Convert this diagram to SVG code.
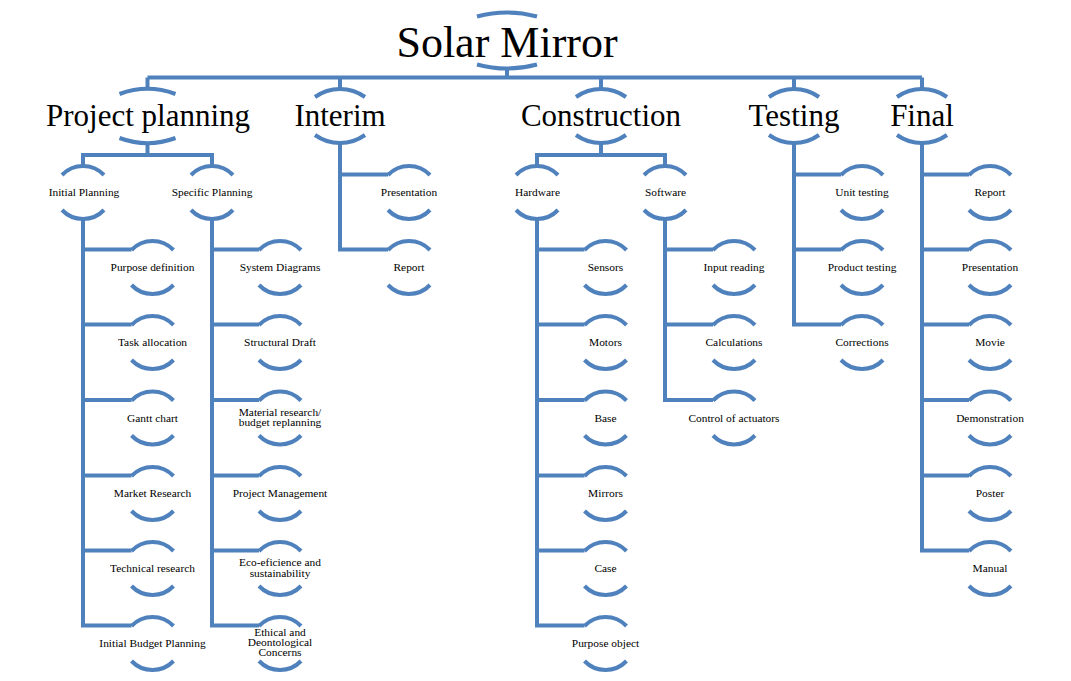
<svg xmlns="http://www.w3.org/2000/svg" xmlns:xlink="http://www.w3.org/1999/xlink" width="1071" height="681" viewBox="0 0 1071 681">
<style>
.ln{fill:none;stroke:#4F81BD;stroke-width:4;stroke-linejoin:miter}
.t{font-family:"Liberation Serif","Times New Roman",serif;font-size:11.4px;text-anchor:middle;fill:#000}
.h1{font-family:"Liberation Serif","Times New Roman",serif;font-size:31px;text-anchor:middle;fill:#000}
.h0{font-family:"Liberation Serif","Times New Roman",serif;font-size:44px;text-anchor:middle;fill:#000}
</style>
<defs>
<path id="arcS" class="ln" d="M-21,-17 A29,29 0 0 1 21,-17 M-21,18 A29,29 0 0 0 21,18"/>
<path id="arcL" class="ln" d="M-25,-20 A43,43 0 0 1 25,-20 M-25,18 A43,43 0 0 0 25,18"/>
<path id="arcP" class="ln" d="M-28,-23 A81,81 0 0 1 28,-23 M-28,21 A81,81 0 0 0 28,21"/>
<path id="arcT" class="ln" d="M-30,-23.5 A114.5,114.5 0 0 1 30,-23.5 M-30,24.5 A114.5,114.5 0 0 0 30,24.5"/>
</defs>
<rect width="1071" height="681" fill="#fff"/>
<g id="connectors" class="ln">
<path d="M507,68 V77.5 M147.5,77.5 H922 M147.5,77.5 V89 M340,77.5 V89 M601,77.5 V89 M794,77.5 V89 M922,77.5 V89"/>
<path d="M147.5,143 V155 M83,167 V155 H212 V167"/>
<path d="M83,217 V625.5 H131.5 M83,249.5 H131.5 M83,324.5 H131.5 M83,400 H131.5 M83,475.5 H131.5 M83,550.5 H131.5"/>
<path d="M212,217 V625.5 H259 M212,249.5 H259 M212,324.5 H259 M212,400 H259 M212,475.5 H259 M212,550.5 H259"/>
<path d="M340,143 V249.5 H388 M340,174.5 H388"/>
<path d="M601,143 V155 M537,167 V155 H665 V167"/>
<path d="M537,217 V625.5 H584.5 M537,249.5 H584.5 M537,324.5 H584.5 M537,400 H584.5 M537,475.5 H584.5 M537,550.5 H584.5"/>
<path d="M665,217 V400 H713 M665,249.5 H713 M665,324.5 H713"/>
<path d="M794,143 V324.5 H841 M794,174.5 H841 M794,249.5 H841"/>
<path d="M922,143 V550.5 H969 M922,174.5 H969 M922,249.5 H969 M922,324.5 H969 M922,400 H969 M922,475.5 H969"/>
</g>
<g id="n-root"><use href="#arcT" transform="translate(507,40)"/><text class="h0" x="507" y="57">Solar Mirror</text></g>
<g id="n-project-planning"><use href="#arcP" transform="translate(147.5,117)"/><text class="h1" x="148" y="126">Project planning</text></g>
<g id="n-interim"><use href="#arcL" transform="translate(340,117)"/><text class="h1" x="340" y="126">Interim</text></g>
<g id="n-construction"><use href="#arcL" transform="translate(601,117)"/><text class="h1" x="601" y="126">Construction</text></g>
<g id="n-testing"><use href="#arcL" transform="translate(794,117)"/><text class="h1" x="794" y="126">Testing</text></g>
<g id="n-final"><use href="#arcL" transform="translate(922,117)"/><text class="h1" x="922" y="126">Final</text></g>

<g id="n-initial-planning"><use href="#arcS" transform="translate(83,192)"/><text class="t" x="84" y="196">Initial Planning</text></g>
<g id="n-specific-planning"><use href="#arcS" transform="translate(212,192)"/><text class="t" x="212" y="196">Specific Planning</text></g>
<g id="n-hardware"><use href="#arcS" transform="translate(537,192)"/><text class="t" x="537.5" y="196">Hardware</text></g>
<g id="n-software"><use href="#arcS" transform="translate(665,192)"/><text class="t" x="665.5" y="196">Software</text></g>

<g id="n-purpose-definition"><use href="#arcS" transform="translate(152.5,267)"/><text class="t" x="152.5" y="271">Purpose definition</text></g>
<g id="n-task-allocation"><use href="#arcS" transform="translate(152.5,342)"/><text class="t" x="152.5" y="346">Task allocation</text></g>
<g id="n-gantt-chart"><use href="#arcS" transform="translate(152.5,417.5)"/><text class="t" x="152.5" y="421.5">Gantt chart</text></g>
<g id="n-market-research"><use href="#arcS" transform="translate(152.5,493)"/><text class="t" x="152.5" y="497">Market Research</text></g>
<g id="n-technical-research"><use href="#arcS" transform="translate(152.5,568)"/><text class="t" x="152.5" y="572">Technical research</text></g>
<g id="n-initial-budget"><use href="#arcS" transform="translate(152.5,643)"/><text class="t" x="152.5" y="647">Initial Budget Planning</text></g>

<g id="n-system-diagrams"><use href="#arcS" transform="translate(280,267)"/><text class="t" x="280" y="271">System Diagrams</text></g>
<g id="n-structural-draft"><use href="#arcS" transform="translate(280,342)"/><text class="t" x="280" y="346">Structural Draft</text></g>
<g id="n-material-research"><use href="#arcS" transform="translate(280,417.5)"/><text class="t" x="280" y="415.5">Material research/<tspan x="280" dy="10.5">budget replanning</tspan></text></g>
<g id="n-project-management"><use href="#arcS" transform="translate(280,493)"/><text class="t" x="280" y="497">Project Management</text></g>
<g id="n-eco"><use href="#arcS" transform="translate(280,568)"/><text class="t" x="280" y="565.5">Eco-eficience and<tspan x="280" dy="11">sustainability</tspan></text></g>
<g id="n-ethical"><use href="#arcS" transform="translate(280,643)"/><text class="t" x="280" y="636">Ethical and<tspan x="280" dy="10">Deontological</tspan><tspan x="280" dy="10">Concerns</tspan></text></g>

<g id="n-interim-presentation"><use href="#arcS" transform="translate(409,192)"/><text class="t" x="409" y="196">Presentation</text></g>
<g id="n-interim-report"><use href="#arcS" transform="translate(409,267)"/><text class="t" x="409" y="271">Report</text></g>

<g id="n-sensors"><use href="#arcS" transform="translate(605.5,267)"/><text class="t" x="605.5" y="271">Sensors</text></g>
<g id="n-motors"><use href="#arcS" transform="translate(605.5,342)"/><text class="t" x="605.5" y="346">Motors</text></g>
<g id="n-base"><use href="#arcS" transform="translate(605.5,417.5)"/><text class="t" x="605.5" y="421.5">Base</text></g>
<g id="n-mirrors"><use href="#arcS" transform="translate(605.5,493)"/><text class="t" x="605.5" y="497">Mirrors</text></g>
<g id="n-case"><use href="#arcS" transform="translate(605.5,568)"/><text class="t" x="605.5" y="572">Case</text></g>
<g id="n-purpose-object"><use href="#arcS" transform="translate(605.5,643)"/><text class="t" x="605.5" y="647">Purpose object</text></g>

<g id="n-input-reading"><use href="#arcS" transform="translate(734,267)"/><text class="t" x="734" y="271">Input reading</text></g>
<g id="n-calculations"><use href="#arcS" transform="translate(734,342)"/><text class="t" x="734" y="346">Calculations</text></g>
<g id="n-control"><use href="#arcS" transform="translate(734,417.5)"/><text class="t" x="734" y="421.5">Control of actuators</text></g>

<g id="n-unit-testing"><use href="#arcS" transform="translate(862,192)"/><text class="t" x="862" y="196">Unit testing</text></g>
<g id="n-product-testing"><use href="#arcS" transform="translate(862,267)"/><text class="t" x="862" y="271">Product testing</text></g>
<g id="n-corrections"><use href="#arcS" transform="translate(862,342)"/><text class="t" x="862" y="346">Corrections</text></g>

<g id="n-final-report"><use href="#arcS" transform="translate(990,192)"/><text class="t" x="990" y="196">Report</text></g>
<g id="n-final-presentation"><use href="#arcS" transform="translate(990,267)"/><text class="t" x="990" y="271">Presentation</text></g>
<g id="n-movie"><use href="#arcS" transform="translate(990,342)"/><text class="t" x="990" y="346">Movie</text></g>
<g id="n-demonstration"><use href="#arcS" transform="translate(990,417.5)"/><text class="t" x="990" y="421.5">Demonstration</text></g>
<g id="n-poster"><use href="#arcS" transform="translate(990,493)"/><text class="t" x="990" y="497">Poster</text></g>
<g id="n-manual"><use href="#arcS" transform="translate(990,568)"/><text class="t" x="990" y="572">Manual</text></g>
</svg>
